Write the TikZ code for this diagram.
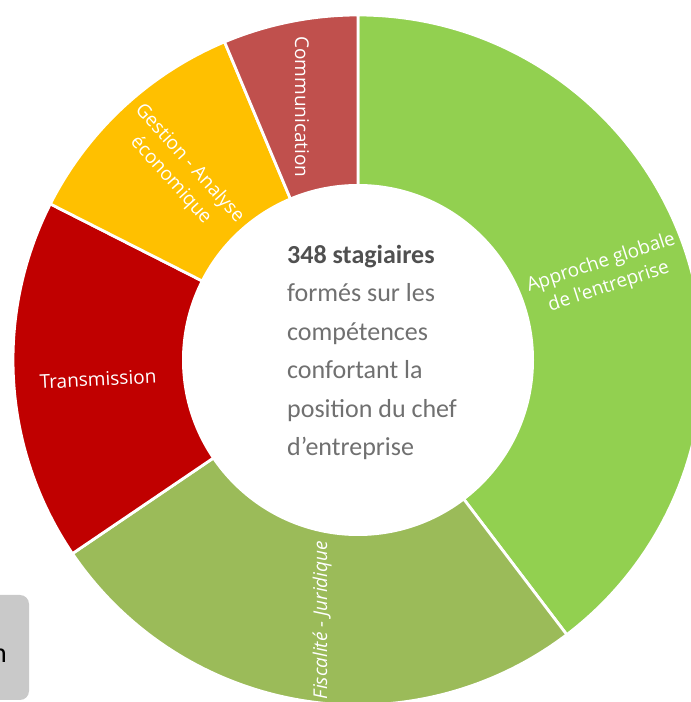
\documentclass[tikz,border=0pt]{standalone}
\usepackage{fontspec}
\setmainfont{Carlito}
\newfontfamily\labelfont{Open Sans}
\usetikzlibrary{positioning}
\definecolor{approche}{HTML}{92D050}
\definecolor{fiscal}{HTML}{9BBB59}
\definecolor{transm}{HTML}{C00000}
\definecolor{gestion}{HTML}{FFC000}
\definecolor{commu}{HTML}{C0504D}
\definecolor{infodark}{HTML}{505050}
\definecolor{infolight}{HTML}{707070}
\definecolor{boxgrey}{HTML}{C9C9C9}
\tikzset{
  wedge/.style={draw=white, line width=2.8pt, line join=round},
  slabel/.style={
    text=white, align=center, inner sep=0pt,
    font=\labelfont\fontsize{19}{25}\selectfont
  },
  infotext/.style={
    align=left, inner sep=0pt, text=infolight,
    font=\fontsize{26}{38.4}\selectfont
  },
  greybox/.style={fill=boxgrey, rounded corners=9pt, inner sep=0pt}
}

\begin{document}
\begin{tikzpicture}[x=1pt, y=1pt]
  \useasboundingbox (0,0) rectangle (691,702);
  \clip (0,0) rectangle (691,702);
  \coordinate (c) at (358,342);
  % sectors: start angle / end angle / colour
  \foreach \a/\b/\col in {90/-52.759/approche, -52.759/-145.862/fiscal, -145.862/-206.897/transm, -206.897/-247.241/gestion, -247.241/-270/commu}{
    \filldraw[wedge, fill=\col] (c) -- ++(\a:345) arc[start angle=\a, end angle=\b, radius=345] -- cycle;
  }
  \fill[white] (c) circle (176);
  \node[slabel, rotate=18] (approchelbl) at (605,427) {Approche globale\\de l'entreprise};
  \node[slabel, rotate=90, font=\labelfont\itshape\fontsize{19}{25}\selectfont] (fiscallbl) at (322,82) {Fiscalité - Juridique};
  \node[slabel, rotate=3] (transmlbl) at (98,323) {Transmission};
  \node[slabel, rotate=-48] (gestionlbl) at (180,530) {Gestion - Analyse\\économique};
  \node[slabel, rotate=-90] (commulbl) at (302,595) {Communication};
  \node[infotext, anchor=north west] (stagiaires) at (287,457) {{\bfseries\color{infodark}348 stagiaires}\\formés sur les\\compétences\\confortant la\\position du chef\\d’entreprise};
  \node[greybox, minimum width=50, minimum height=105] (box) at (4,54.5) {};
  \node[anchor=base east, inner sep=0pt, font=\fontsize{28}{30}\selectfont] (boxtext) at (7,39) {n};
\end{tikzpicture}
\end{document}
